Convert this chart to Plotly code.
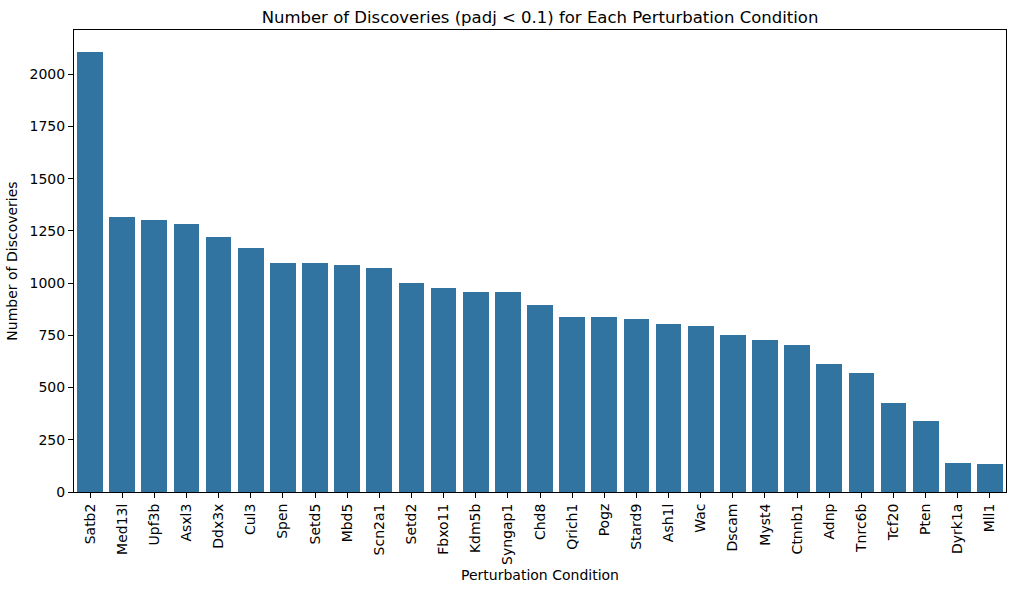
import plotly.graph_objects as go

conditions = ["Satb2", "Med13l", "Upf3b", "Asxl3", "Ddx3x", "Cul3", "Spen", "Setd5", "Mbd5",
              "Scn2a1", "Setd2", "Fbxo11", "Kdm5b", "Syngap1", "Chd8", "Qrich1", "Pogz", "Stard9",
              "Ash1l", "Wac", "Dscam", "Myst4", "Ctnnb1", "Adnp", "Tnrc6b", "Tcf20", "Pten",
              "Dyrk1a", "Mll1"]
discoveries = [2107, 1316, 1303, 1284, 1220, 1167, 1096, 1096, 1088,
               1073, 1001, 977, 959, 959, 895, 838, 838, 828,
               804, 795, 752, 728, 704, 613, 569, 426, 339,
               138, 133]
y_ticks = [0, 250, 500, 750, 1000, 1250, 1500, 1750, 2000]

font = "DejaVu Sans"
fig = go.Figure(go.Bar(
    x=list(range(len(conditions))), y=discoveries, width=0.8,
    marker=dict(color="#3274a1", line=dict(width=0)),
))
fig.update_layout(
    width=1014, height=592,
    margin=dict(l=74, r=8, t=30, b=100),
    paper_bgcolor="white", plot_bgcolor="white",
    font=dict(family=font, size=14, color="black"),
    title=dict(text="Number of Discoveries (padj < 0.1) for Each Perturbation Condition",
               x=0.5, xref="paper", y=1, yref="paper", yanchor="bottom", pad=dict(b=7),
               font=dict(size=16.5, family=font)),
    showlegend=False, bargap=0,
)
fig.update_xaxes(
    range=[-0.5, len(conditions) - 0.5], tickmode="array",
    tickvals=list(range(len(conditions))), ticktext=conditions, tickangle=-90,
    ticks="outside", ticklen=5, tickcolor="black", showline=True, linecolor="black",
    linewidth=1, mirror=True, showgrid=False, zeroline=False,
    title=dict(text="Perturbation Condition", standoff=6, font=dict(size=14)),
)
fig.update_yaxes(
    range=[0, max(discoveries) * 1.05], tickmode="array", tickvals=y_ticks,
    ticks="outside", ticklen=5, tickcolor="black", showline=True, linecolor="black",
    linewidth=1, mirror=True, showgrid=False, zeroline=False,
    title=dict(text="Number of Discoveries", standoff=8, font=dict(size=14)),
)
fig.write_html("out.html")
